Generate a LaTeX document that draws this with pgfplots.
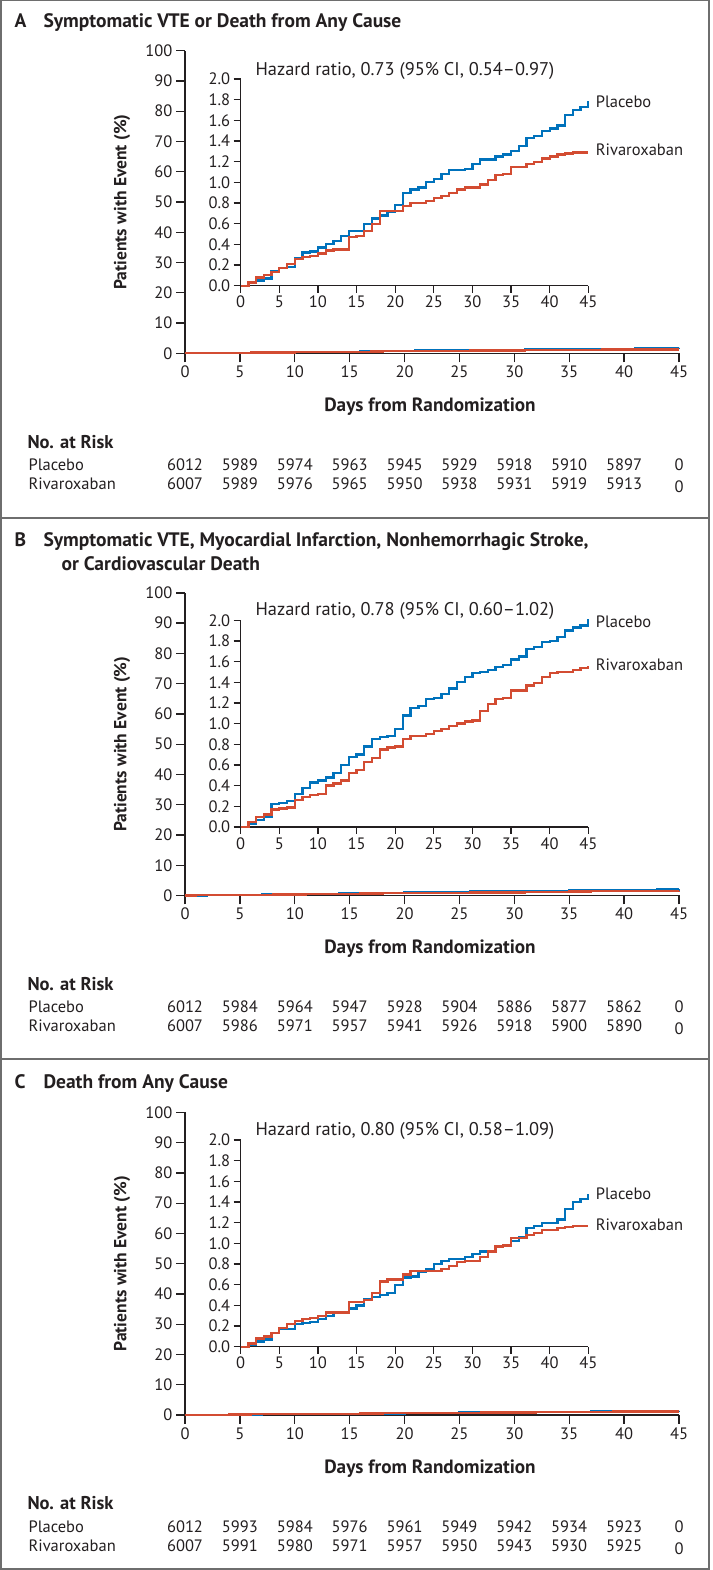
\documentclass[border=0pt]{standalone}
\usepackage{fontspec}
\setmainfont{PT Sans}
\usepackage{pgfplots}
\pgfplotsset{compat=1.18}
\usepackage{pgfplotstable}
\definecolor{pblue}{RGB}{0,114,188}
\definecolor{rred}{RGB}{211,76,50}
\definecolor{axisgray}{RGB}{35,31,32}
\definecolor{framegray}{RGB}{110,110,110}
\newcommand\fs{\fontsize{16.5}{19}\selectfont}
\newcommand\fsh{\fontsize{18.4}{21}\selectfont}
\newcommand\fsb{\fontsize{17.5}{20}\selectfont\bfseries}
\newcommand\fsd{\fontsize{19.2}{22}\selectfont\bfseries}
\newcommand\fsn{\fontsize{18.5}{21}\selectfont\bfseries}
\newcommand\fst{\fontsize{19.5}{22}\selectfont\bfseries}

\pgfplotstableread{
x y
0 0
1 0.03
2 0.05
3 0.07
4 0.14
5 0.17
6 0.18
7 0.27
8 0.32
9 0.33
10 0.37
11 0.40
12 0.43
13 0.48
14 0.53
15 0.53
16 0.60
17 0.65
18 0.68
19 0.71
20 0.78
21 0.90
22 0.93
23 0.95
24 1.00
25 1.03
26 1.08
27 1.12
28 1.12
29 1.13
30 1.18
31 1.22
32 1.22
33 1.25
34 1.27
35 1.30
36 1.35
37 1.43
38 1.45
39 1.50
40 1.52
41 1.55
42 1.65
43 1.70
44 1.73
45 1.79
}\Apla
\pgfplotstableread{
x y
0 0
1 0.03
2 0.08
3 0.10
4 0.13
5 0.17
6 0.21
7 0.26
8 0.28
9 0.29
10 0.31
11 0.34
12 0.35
13 0.35
14 0.47
15 0.48
16 0.53
17 0.60
18 0.72
19 0.72
20 0.72
21 0.77
22 0.80
23 0.80
24 0.82
25 0.85
26 0.87
27 0.90
28 0.93
29 0.95
30 0.95
31 0.98
32 1.02
33 1.07
34 1.08
35 1.15
36 1.15
37 1.18
38 1.20
39 1.23
40 1.25
41 1.27
42 1.28
43 1.29
44 1.29
45 1.29
}\Ariv
\pgfplotstableread{
x y
0 0
1 0.03
2 0.07
3 0.10
4 0.22
5 0.23
6 0.25
7 0.32
8 0.38
9 0.43
10 0.45
11 0.48
12 0.52
13 0.60
14 0.68
15 0.70
16 0.78
17 0.85
18 0.87
19 0.88
20 0.95
21 1.08
22 1.15
23 1.17
24 1.24
25 1.25
26 1.29
27 1.34
28 1.40
29 1.45
30 1.49
31 1.50
32 1.52
33 1.55
34 1.57
35 1.62
36 1.65
37 1.72
38 1.74
39 1.79
40 1.80
41 1.84
42 1.90
43 1.93
44 1.95
45 2.01
}\Bpla
\pgfplotstableread{
x y
0 0
1 0.05
2 0.10
3 0.12
4 0.17
5 0.18
6 0.19
7 0.26
8 0.29
9 0.31
10 0.32
11 0.40
12 0.42
13 0.45
14 0.52
15 0.55
16 0.63
17 0.67
18 0.75
19 0.77
20 0.78
21 0.85
22 0.88
23 0.88
24 0.90
25 0.93
26 0.95
27 0.98
28 1.00
29 1.02
30 1.03
31 1.12
32 1.19
33 1.24
34 1.25
35 1.32
36 1.32
37 1.37
38 1.39
39 1.45
40 1.49
41 1.50
42 1.50
43 1.52
44 1.54
45 1.56
}\Briv
\pgfplotstableread{
x y
0 0
1 0.02
2 0.05
3 0.07
4 0.13
5 0.17
6 0.17
7 0.22
8 0.23
9 0.24
10 0.27
11 0.30
12 0.33
13 0.33
14 0.37
15 0.40
16 0.46
17 0.48
18 0.50
19 0.52
20 0.60
21 0.67
22 0.68
23 0.72
24 0.75
25 0.80
26 0.83
27 0.85
28 0.85
29 0.87
30 0.90
31 0.92
32 0.92
33 0.97
34 0.98
35 1.02
36 1.06
37 1.15
38 1.17
39 1.20
40 1.20
41 1.23
42 1.33
43 1.40
44 1.43
45 1.48
}\Cpla
\pgfplotstableread{
x y
0 0
1 0.03
2 0.08
3 0.10
4 0.13
5 0.18
6 0.22
7 0.25
8 0.27
9 0.28
10 0.30
11 0.33
12 0.33
13 0.33
14 0.43
15 0.43
16 0.45
17 0.52
18 0.63
19 0.65
20 0.65
21 0.70
22 0.73
23 0.73
24 0.73
25 0.73
26 0.75
27 0.78
28 0.82
29 0.83
30 0.83
31 0.87
32 0.92
33 0.97
34 0.98
35 1.05
36 1.05
37 1.08
38 1.10
39 1.13
40 1.13
41 1.15
42 1.16
43 1.17
44 1.17
45 1.17
}\Criv

\pgfplotsset{
  kmbase/.style={
    scale only axis, axis lines=left,
    axis line style={-, line width=1.3pt, color=axisgray},
    every tick/.style={line width=1.3pt, color=axisgray},
    tick align=outside,
    xmin=0, xmax=45, ymin=0, xtick={0,5,...,45},
    tick label style={font=\fs, text=axisgray},
    /pgf/number format/assume math mode=true,
    clip=false, anchor=south west,
  },
  mainax/.style={kmbase, width=494pt, height=302.6pt, ymax=100,
    ytick={0,10,...,100}, major tick length=9pt},
  inset/.style={kmbase, width=347.6pt, height=206.7pt, ymax=2,
    ytick={0,0.2,0.4,0.6,0.8,1.0,1.2,1.4,1.6,1.8,2.0}, major tick length=7pt,
    yticklabel style={/pgf/number format/.cd, fixed, fixed zerofill, precision=1}},
  pla/.style={const plot, no marks, color=pblue, line width=2.3pt},
  riv/.style={const plot, no marks, color=rred, line width=2.3pt},
}

\newcommand\riskrows[3]{%
  \node[font=\fsn, anchor=west, text=axisgray] at (24,#1) {No. at Risk};
  \node[font=\fs, anchor=west, text=axisgray] at (25,#1-23.3) {Placebo};
  \node[font=\fs, anchor=west, text=axisgray] at (25,#1-42.3) {Rivaroxaban};
  \foreach \v [count=\i from 0] in {#2} \node[font=\fs, text=axisgray] at ({185+54.889*\i},#1-23.3) {\v};
  \foreach \v [count=\i from 0] in {#3} \node[font=\fs, text=axisgray] at ({185+54.889*\i},#1-42.3) {\v};
  \node[font=\fs, text=axisgray] at (679,#1-45.3) {0};
}

\begin{document}
\begin{tikzpicture}[x=1pt,y=1pt]
\path[use as bounding box] (0,0) rectangle (712,1570);
\draw[framegray, line width=2pt] (1,0.5) rectangle (708.5,1569.5);
\draw[framegray, line width=2pt] (1,1052.3) -- (708.5,1052.3);
\draw[framegray, line width=2pt] (1,511) -- (708.5,511);

% ---------------- Panel A ----------------
\node[font=\fst, anchor=base west, text=axisgray] at (11,1542.5) {A};
\node[font=\fst, anchor=base west, text=axisgray] at (40,1542.5) {Symptomatic VTE or Death from Any Cause};
\begin{axis}[mainax, at={(185pt,1216.7pt)}]
  \addplot[pla] table {\Apla};
  \addplot[riv] table {\Ariv};
\end{axis}
\begin{axis}[inset, at={(240.7pt,1284.3pt)}]
  \addplot[pla] table {\Apla};
  \addplot[riv] table {\Ariv};
  \node[font=\fs, anchor=west, text=axisgray] at (axis cs:45,1.775) [xshift=4pt] {Placebo};
  \node[font=\fs, anchor=west, text=axisgray] at (axis cs:45,1.313) [xshift=4pt] {Rivaroxaban};
\end{axis}
\node[font=\fsh, anchor=west, text=axisgray] at (252,1499) {Hazard ratio, 0.73 (95\% CI, 0.54\textendash0.97)};
\node[font=\fsb, rotate=90, text=axisgray] at (122,1368) {Patients with Event (\%)};
\node[font=\fsd, text=axisgray] at (430,1163.3) {Days from Randomization};
\riskrows{1128.3}{6012,5989,5974,5963,5945,5929,5918,5910,5897,0}{6007,5989,5976,5965,5950,5938,5931,5919,5913}

% ---------------- Panel B ----------------
\node[font=\fst, anchor=base west, text=axisgray] at (11,1023.3) {B};
\node[font=\fst, anchor=base west, text=axisgray] at (40,1023.3) {Symptomatic VTE, Myocardial Infarction, Nonhemorrhagic Stroke,};
\node[font=\fst, anchor=base west, text=axisgray] at (58,999.3) {or Cardiovascular Death};
\begin{axis}[mainax, at={(185pt,674.5pt)}]
  \addplot[pla] table {\Bpla};
  \addplot[riv] table {\Briv};
\end{axis}
\begin{axis}[inset, at={(240.7pt,743pt)}]
  \addplot[pla] table {\Bpla};
  \addplot[riv] table {\Briv};
  \node[font=\fs, anchor=west, text=axisgray] at (axis cs:45,1.986) [xshift=4pt] {Placebo};
  \node[font=\fs, anchor=west, text=axisgray] at (axis cs:45,1.574) [xshift=4pt] {Rivaroxaban};
\end{axis}
\node[font=\fsh, anchor=west, text=axisgray] at (252,958.7) {Hazard ratio, 0.78 (95\% CI, 0.60\textendash1.02)};
\node[font=\fsb, rotate=90, text=axisgray] at (122,825.7) {Patients with Event (\%)};
\node[font=\fsd, text=axisgray] at (430,621.1) {Days from Randomization};
\riskrows{586.1}{6012,5984,5964,5947,5928,5904,5886,5877,5862,0}{6007,5986,5971,5957,5941,5926,5918,5900,5890}

% ---------------- Panel C ----------------
\node[font=\fst, anchor=base west, text=axisgray] at (11,481.7) {C};
\node[font=\fst, anchor=base west, text=axisgray] at (40,481.7) {Death from Any Cause};
\begin{axis}[mainax, at={(185pt,155pt)}]
  \addplot[pla] table {\Cpla};
  \addplot[riv] table {\Criv};
\end{axis}
\begin{axis}[inset, at={(240.7pt,223.3pt)}]
  \addplot[pla] table {\Cpla};
  \addplot[riv] table {\Criv};
  \node[font=\fs, anchor=west, text=axisgray] at (axis cs:45,1.475) [xshift=4pt] {Placebo};
  \node[font=\fs, anchor=west, text=axisgray] at (axis cs:45,1.184) [xshift=4pt] {Rivaroxaban};
\end{axis}
\node[font=\fsh, anchor=west, text=axisgray] at (252,439) {Hazard ratio, 0.80 (95\% CI, 0.58\textendash1.09)};
\node[font=\fsb, rotate=90, text=axisgray] at (122,306.3) {Patients with Event (\%)};
\node[font=\fsd, text=axisgray] at (430,101.6) {Days from Randomization};
\riskrows{66.6}{6012,5993,5984,5976,5961,5949,5942,5934,5923,0}{6007,5991,5980,5971,5957,5950,5943,5930,5925}
\end{tikzpicture}
\end{document}
